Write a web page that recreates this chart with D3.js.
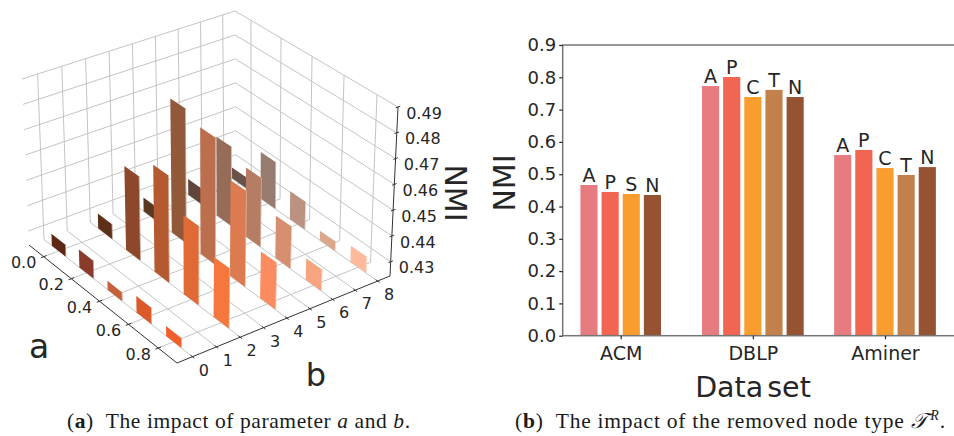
<!DOCTYPE html>
<html><head><meta charset="utf-8">
<script src="https://cdn.jsdelivr.net/npm/d3@7"></script>
<style>html,body{margin:0;padding:0;background:#fff}svg{display:block}</style>
</head><body><svg id="c" width="954" height="436"></svg>
<script>
// ---------- data: panel (a) ----------
const aValues = [0.0, 0.2, 0.4, 0.6, 0.8];
const bValues = [0, 2, 4, 6, 8];
const bTicks = [0, 1, 2, 3, 4, 5, 6, 7, 8];
const zTicks = [0.43, 0.44, 0.45, 0.46, 0.47, 0.48, 0.49];
const nmiB0 = [0.4292, 0.4315, 0.4279, 0.4308, 0.4282];
const nmiB2 = [0.4304, 0.4574, 0.466, 0.4548, 0.4472];
const nmiB4 = [0.4301, 0.4777, 0.4741, 0.4615, 0.4424];
const nmiB6 = [0.4309, 0.4561, 0.4518, 0.441, 0.4328];
const nmiB8 = [0.429, 0.4434, 0.4357, 0.4283, 0.4308];
const nmiRows = [nmiB0, nmiB2, nmiB4, nmiB6, nmiB8];
const colB0 = ["#5e2614", "#8a3b2b", "#c2613a", "#dc5a2a", "#f15f2a"];
const colB2 = ["#5c2f18", "#8d482c", "#b55a30", "#e06a35", "#f5773d"];
const colB4 = ["#5b3820", "#91593a", "#bb6f4d", "#dc7b50", "#fb8c60"];
const colB6 = ["#60453a", "#966b58", "#b57d63", "#d68e70", "#f7a480"];
const colB8 = ["#695249", "#977b6f", "#bb9280", "#dba88c", "#ffb99b"];
const colRows = [colB0, colB2, colB4, colB6, colB8];

// ---------- data: panel (b) ----------
const datasets = ["ACM", "DBLP", "Aminer"];
const acmTypes = ["A", "P", "S", "N"], acmNmi = [0.4666, 0.4449, 0.4387, 0.4356];
const dblpTypes = ["A", "P", "C", "T", "N"], dblpNmi = [0.773, 0.801, 0.739, 0.761, 0.739];
const aminerTypes = ["A", "P", "C", "T", "N"], aminerNmi = [0.5594, 0.575, 0.519, 0.4975, 0.522];
const typeColor = {A: "#e67c80", P: "#f26552", C: "#f99d2f", S: "#f99d2f", T: "#c3804a", N: "#965334"};
const nmiTicks = [0, .1, .2, .3, .4, .5, .6, .7, .8, .9];

const svg = d3.select("#c");
const sans = "'DejaVu Sans'", ink = "#262626";

// ---------- 3D projection ----------
function homography(q) {
  const [[x0,y0],[x1,y1],[x2,y2],[x3,y3]] = q;
  const dx1=x1-x2, dx2=x3-x2, sx=x0-x1+x2-x3, dy1=y1-y2, dy2=y3-y2, sy=y0-y1+y2-y3;
  const den=dx1*dy2-dx2*dy1, g=(sx*dy2-dx2*sy)/den, h=(dx1*sy-sx*dy1)/den;
  const A=x1-x0+g*x1, B=x3-x0+h*x3, D=y1-y0+g*y1, E=y3-y0+h*y3;
  return (u,v)=>{const w=g*u+h*v+1;return [(A*u+B*v+x0)/w,(D*u+E*v+y0)/w];};
}
// corners: left, near, right, back
const floorH = homography([[29,245],[177,363],[390,276],[236,168]]);
const ceilH  = homography([[22,79],[177,187],[398,107],[235,11]]);
const aScale = d3.scaleLinear().domain([-0.108, 0.924]).range([0, 1]);
const bScale = d3.scaleLinear().domain([-0.64, 8.56]).range([0, 1]);
const zScale = d3.scaleLinear().domain([0.4245, 0.49]).range([0, 1]);
const P = (a,b,z)=>{
  const u=aScale(a), v=bScale(b), t=zScale(z);
  const p=floorH(u,v), q=ceilH(u,v);
  return [p[0]+(q[0]-p[0])*t, p[1]+(q[1]-p[1])*t];
};
const [aMin,aMax]=aScale.domain(), [bMin,bMax]=bScale.domain(), [zMin,zMax]=zScale.domain();
const L = d3.line();
const g3 = svg.append("g");
const seg = (p,q,col,w)=>g3.append("path").attr("d",L([p,q])).attr("stroke",col).attr("stroke-width",w).attr("fill","none");
const grid="#c4c4c4";
// wall and floor grid
bTicks.forEach(b=>{ seg(P(aMin,b,zMin),P(aMin,b,zMax),grid,1); seg(P(aMin,b,zMin),P(aMax,b,zMin),grid,1); });
aValues.forEach(a=>{ seg(P(a,bMax,zMin),P(a,bMax,zMax),grid,1); seg(P(a,bMin,zMin),P(a,bMax,zMin),grid,1); });
zTicks.forEach(z=>{ seg(P(aMin,bMin,z),P(aMin,bMax,z),grid,1); seg(P(aMin,bMax,z),P(aMax,bMax,z),grid,1); });
// bars
const halfW = 0.05, thin = 0.03;
const bars = [];
bValues.forEach((b,i)=>aValues.forEach((a,j)=>bars.push({a,b,v:nmiRows[i][j],c:colRows[i][j]})));
bars.sort((m,n)=>(aScale(m.a)-bScale(m.b))-(aScale(n.a)-bScale(n.b)));
g3.append("g").selectAll("g").data(bars).join("g").each(function(d){
  const s=d3.select(this), a0=d.a-halfW, a1=d.a+halfW;
  s.append("path").attr("fill",d3.interpolateRgb(d.c,"#fff")(0.45))
   .attr("d",L([P(a1,d.b,zMin),P(a1,d.b+thin,zMin),P(a1,d.b+thin,d.v),P(a1,d.b,d.v)])+"Z");
  s.append("path").attr("fill",d.c)
   .attr("d",L([P(a0,d.b,zMin),P(a1,d.b,zMin),P(a1,d.b,d.v),P(a0,d.b,d.v)])+"Z");
});
// axes lines
const axisCol="#333";
seg(P(aMin,bMin,zMin),P(aMax,bMin,zMin),axisCol,1);
seg(P(aMax,bMin,zMin),P(aMax,bMax,zMin),axisCol,1);
seg(P(aMax,bMax,zMin),P(aMax,bMax,zMax),axisCol,1);
const label3=(p,dx,dy,t)=>g3.append("text").attr("x",p[0]+dx).attr("y",p[1]+dy+5.5).attr("text-anchor","middle")
  .attr("font-family",sans).attr("font-size",16).attr("fill",ink).text(t);
aValues.forEach(a=>{
  seg(P(a,bMin-0.12,zMin),P(a,bMin+0.12,zMin),axisCol,1);
  label3(P(a,bMin,zMin),-20,6,d3.format(".1f")(a));
});
bTicks.forEach(b=>{
  seg(P(aMax-0.012,b,zMin),P(aMax+0.012,b,zMin),axisCol,1);
  label3(P(aMax,b,zMin),11.5,13.5,b);
});
zTicks.forEach(z=>{
  seg(P(aMax,bMax-0.1,z),P(aMax,bMax+0.1,z),axisCol,1);
  label3(P(aMax,bMax,z),26,6,z.toFixed(2));
});
svg.append("text").attr("x",39).attr("y",358).attr("text-anchor","middle").attr("font-family",sans).attr("font-size",33).attr("fill",ink).text("a");
svg.append("text").attr("x",316).attr("y",386).attr("text-anchor","middle").attr("font-family",sans).attr("font-size",32).attr("fill",ink).text("b");
svg.append("text").attr("transform","translate(445,193) rotate(90)").attr("text-anchor","middle").attr("font-family",sans).attr("font-size",30).attr("fill",ink).text("NMI");

// ---------- bar chart ----------
const y = d3.scaleLinear().domain([0,0.9]).range([335.7,45]);
const xGroup = d3.scalePoint().domain(datasets).range([620.7,885]);
const slot = 21.15;
const groups = [
  {name:"ACM", types:acmTypes, vals:acmNmi},
  {name:"DBLP", types:dblpTypes, vals:dblpNmi},
  {name:"Aminer", types:aminerTypes, vals:aminerNmi}];
const gb = svg.append("g");
groups.forEach(G=>{
  const n=G.types.length;
  const xi=d3.scaleBand().domain(d3.range(n)).range([-n*slot/2,n*slot/2]).paddingInner(0.19).paddingOuter(0.095);
  const c=xGroup(G.name);
  G.vals.forEach((v,i)=>{
    const t=G.types[i];
    gb.append("rect").attr("x",c+xi(i)).attr("y",y(v)).attr("width",xi.bandwidth()).attr("height",y(0)-y(v)).attr("fill",typeColor[t]);
    gb.append("text").attr("x",c+xi(i)+xi.bandwidth()/2).attr("y",y(v)-3).attr("text-anchor","middle")
      .attr("font-family",sans).attr("font-size",19).attr("fill",ink).text(t);
  });
});
const spine="#757575";
gb.append("rect").attr("x",562.7).attr("y",45).attr("width",400).attr("height",290.7).attr("fill","none").attr("stroke",spine).attr("stroke-width",1.5);
const yAxis=d3.axisLeft(y).tickValues(nmiTicks).tickFormat(d3.format(".1f")).tickSize(3.5).tickPadding(3);
const ya=svg.append("g").attr("transform","translate(562.7,0)").call(yAxis);
ya.select(".domain").remove();
ya.selectAll("line").attr("stroke",ink).attr("stroke-width",1.2);
ya.selectAll("text").attr("font-family",sans).attr("font-size",18).attr("fill",ink);
const xAxis=d3.axisBottom(xGroup).tickSize(3.5).tickPadding(7);
const xa=svg.append("g").attr("transform","translate(0,335.7)").call(xAxis);
xa.select(".domain").remove();
xa.selectAll("line").attr("stroke",ink).attr("stroke-width",1.2);
xa.selectAll("text").attr("font-family",sans).attr("font-size",19).attr("fill",ink);
svg.append("text").attr("x",753).attr("y",397).attr("text-anchor","middle").attr("font-family",sans).attr("font-size",28.5).attr("fill",ink).attr("word-spacing",-5).text("Data set");
svg.append("text").attr("transform","translate(515,183) rotate(-90)").attr("text-anchor","middle").attr("font-family",sans).attr("font-size",30).attr("fill",ink).text("NMI");

// ---------- captions ----------
const serif="'Liberation Serif'";
const cap1=svg.append("text").attr("x",67).attr("y",428).attr("font-family",serif).attr("font-size",21.5).attr("fill","#1a1a1a").attr("textLength",343).attr("lengthAdjust","spacing");
cap1.append("tspan").text("(");cap1.append("tspan").attr("font-weight","bold").text("a");cap1.append("tspan").text(")\u00a0\u00a0The impact of parameter ");
cap1.append("tspan").attr("font-style","italic").text("a");cap1.append("tspan").text(" and ");cap1.append("tspan").attr("font-style","italic").text("b");cap1.append("tspan").text(".");
const cap2=svg.append("text").attr("x",515).attr("y",428).attr("font-family",serif).attr("font-size",21.5).attr("fill","#1a1a1a").attr("textLength",430).attr("lengthAdjust","spacing");
cap2.append("tspan").text("(");cap2.append("tspan").attr("font-weight","bold").text("b");cap2.append("tspan").text(")\u00a0\u00a0The impact of the removed node type ");
cap2.append("tspan").attr("font-style","italic").text("𝒯");
cap2.append("tspan").attr("font-style","italic").attr("font-size",14).attr("dx",3).attr("dy",-8).text("R");
cap2.append("tspan").attr("dy",8).text(".");
</script></body></html>
